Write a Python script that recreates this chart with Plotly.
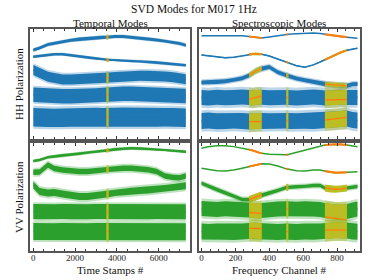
import plotly.graph_objects as go
from plotly.subplots import make_subplots

# ---------------- data ----------------
T_GRID = [0, 300, 700, 1000, 1400, 1800, 2200, 2600, 3000, 3300, 3500, 3600,
          3900, 4300, 4700, 5100, 5500, 5900, 6300, 6700, 7000, 7300]
F_GRID = [0, 40, 90, 140, 190, 240, 280, 300, 320, 340, 355, 400, 450, 500, 512,
          560, 610, 660, 700, 728, 760, 790, 820, 858, 890, 920]

T_MASKS = [(3500, 3600)]
F_MASKS = [(280, 355), (500, 512), (728, 858)]

T_TICKS = [0, 2000, 4000, 6000]
F_TICKS = [0, 200, 400, 600, 800]

# HH temporal modes (stacked amplitude)
HH_T_M1 = [8.9, 9.1, 9.45, 9.58, 9.73, 9.88, 10.0, 10.08, 10.14, 10.17, 10.18, 10.2,
           10.25, 10.24, 10.18, 10.1, 9.99, 9.9, 9.8, 9.68, 9.55, 9.38]
HH_T_M2 = [8.23, 8.3, 8.42, 8.47, 8.48, 8.36, 8.25, 8.15, 8.05, 7.97, 7.92, 7.9,
           7.88, 7.85, 7.8, 7.76, 7.71, 7.66, 7.59, 7.5, 7.43, 7.37]
HH_T_M3 = [6.9, 6.6, 6.23, 6.1, 5.95, 5.95, 5.98, 6.02, 6.07, 6.1, 6.13, 6.15,
           6.2, 6.26, 6.28, 6.32, 6.32, 6.3, 6.26, 6.18, 6.1, 5.98]
HH_T_M4 = [4.42, 4.38, 4.33, 4.3, 4.28, 4.27, 4.28, 4.3, 4.35, 4.4, 4.43, 4.45,
           4.48, 4.52, 4.52, 4.5, 4.47, 4.43, 4.4, 4.36, 4.33, 4.3]
HH_T_M5 = [2.18, 2.15, 2.12, 2.1, 2.12, 2.15, 2.18, 2.2, 2.2, 2.18, 2.17, 2.17,
           2.2, 2.22, 2.2, 2.18, 2.15, 2.15, 2.17, 2.18, 2.15, 2.12]
HH_T_CORE = [0.15, 0.12, 0.5, 0.72, 0.92]
HH_T_PEAK = [0.2, 0.16, 0.68, 0.9, 1.15]

# VV temporal modes
VV_T_M1 = [9.0, 9.1, 9.38, 9.48, 9.57, 9.65, 9.73, 9.85, 9.95, 10.02, 10.05, 10.07,
           10.18, 10.23, 10.27, 10.25, 10.2, 10.17, 10.13, 10.08, 10.0, 9.93]
VV_T_M2 = [7.87, 7.9, 8.6, 8.25, 8.1, 8.0, 7.95, 7.95, 8.03, 8.1, 8.15, 8.18,
           8.25, 8.27, 8.27, 8.2, 8.12, 7.95, 7.5, 7.35, 7.33, 7.5]
VV_T_M3 = [6.6, 5.95, 5.8, 5.85, 5.7, 5.55, 5.45, 5.45, 5.55, 5.65, 5.7, 5.72,
           5.85, 5.92, 5.98, 6.05, 6.1, 6.15, 6.25, 6.35, 6.45, 6.53]
VV_T_M4 = [3.95, 3.93, 3.9, 3.92, 3.95, 3.93, 3.9, 3.92, 3.95, 3.95, 3.93, 3.93,
           3.95, 3.97, 3.95, 3.93, 3.92, 3.95, 3.97, 3.95, 3.93, 3.92]
VV_T_M5 = [1.95, 1.93, 1.9, 1.92, 1.95, 1.93, 1.9, 1.92, 1.95, 1.95, 1.93, 1.93,
           1.95, 1.95, 1.93, 1.9, 1.92, 1.95, 1.95, 1.93, 1.92, 1.92]
VV_T_CORE = [0.12, 0.28, 0.35, 0.75, 0.85]
VV_T_PEAK = [0.17, 0.45, 0.55, 0.92, 1.05]

# HH spectroscopic modes
HH_F_M1 = [10.33, 10.34, 10.36, 10.38, 10.38, 10.33, 10.25, 10.2, 10.15, 10.1, 10.1, 10.2,
           10.33, 10.45, 10.47, 10.53, 10.58, 10.6, 10.55, 10.47, 10.4, 10.33, 10.25,
           10.18, 10.12, 10.08]
HH_F_M2 = [8.4, 8.33, 8.23, 8.12, 8.17, 8.33, 8.46, 8.5, 8.52, 8.5, 8.48, 8.3, 8.0,
           7.7, 7.62, 7.33, 7.18, 7.42, 7.7, 7.92, 8.2, 8.42, 8.65, 8.88, 9.0, 9.08]
HH_F_M3 = [5.65, 5.67, 5.7, 5.78, 5.9, 6.08, 6.35, 6.6, 6.8, 6.95, 7.05, 7.2, 6.68,
           6.38, 6.3, 6.05, 5.88, 5.72, 5.58, 5.48, 5.43, 5.4, 5.36, 5.32, 5.48, 5.5]
HH_F_M4 = [4.15, 4.1, 4.18, 4.12, 4.15, 4.2, 4.15, 4.1, 4.15, 4.2, 4.18, 4.12, 4.15,
           4.18, 4.15, 4.1, 4.15, 4.2, 4.15, 4.1, 4.12, 4.15, 4.2, 4.15, 4.12, 4.15]
HH_F_M5 = [1.8, 1.85, 1.78, 1.8, 1.85, 1.8, 1.75, 1.78, 1.8, 1.82, 1.8, 1.78, 1.82,
           1.85, 1.8, 1.78, 1.82, 1.8, 1.85, 1.88, 1.9, 1.95, 2.0, 2.05, 1.9, 1.85]
HH_F_CORE = [0, 0.04, 0.2, 0.75, 0.8]
HH_F_PEAK = [0, 0.08, 0.32, 1.02, 1.08]

# VV spectroscopic modes
VV_F_M1 = [10.27, 10.42, 10.52, 10.52, 10.44, 10.3, 10.15, 10.07, 9.95, 9.83, 9.77, 9.68,
           9.62, 9.62, 9.65, 9.85, 10.08, 10.33, 10.5, 10.6, 10.65, 10.67, 10.66, 10.6,
           10.5, 10.42]
VV_F_M2 = [8.27, 8.15, 8.02, 8.0, 8.1, 8.28, 8.45, 8.53, 8.62, 8.7, 8.73, 8.7, 8.5,
           8.22, 8.18, 8.03, 8.0, 8.1, 8.1, 7.98, 7.88, 7.83, 7.83, 7.87, 7.9, 7.93]
VV_F_M3 = [6.77, 6.5, 6.13, 5.8, 5.45, 5.15, 5.15, 5.3, 5.42, 5.53, 5.6, 5.78, 6.05,
           6.35, 6.37, 6.42, 6.45, 6.55, 6.55, 6.3, 6.2, 6.17, 6.2, 6.3, 6.4, 6.45]
VV_F_M4 = [4.25, 4.2, 4.15, 4.22, 4.2, 4.15, 4.1, 4.05, 4.0, 4.0, 4.05, 4.15, 4.2,
           4.22, 4.2, 4.18, 4.22, 4.2, 4.15, 4.05, 3.95, 3.9, 3.9, 3.95, 4.1, 4.2]
VV_F_M5 = [1.95, 1.9, 1.95, 1.93, 1.9, 1.95, 2.0, 2.05, 2.05, 2.0, 1.98, 1.93, 1.9,
           1.95, 1.93, 1.9, 1.95, 1.93, 1.95, 2.0, 2.05, 2.1, 2.1, 2.05, 1.95, 1.93]
VV_F_CORE = [0, 0, 0.18, 0.75, 0.8]
VV_F_PEAK = [0, 0, 0.3, 1.0, 1.08]

# fitted values drawn through masked channels of the noisiest modes
F_FIT_X = [280, 355, None, 500, 512, None, 728, 858]
HH_F_FIT_M4 = [3.97, 4.3, None, 4.15, 4.15, None, 3.9, 3.95]
HH_F_FIT_M5 = [1.73, 1.75, None, 1.8, 1.8, None, 1.9, 2.17]
VV_F_FIT_M4 = [3.85, 3.75, None, 4.2, 4.2, None, 3.4, 3.1]
VV_F_FIT_M5 = [2.27, 2.25, None, 1.93, 1.93, None, 2.1, 2.1]

# ---------------- styling ----------------
BLUE = "#1f77b4"
BLUE_L = "rgba(31,119,180,0.3)"
GREEN = "#2ca02c"
GREEN_L = "rgba(44,160,44,0.3)"
ORANGE = "#ff7f0e"
YELLOW = "#bcbd22"
YELLOW_L = "rgba(188,189,34,0.45)"
FONT = "Liberation Serif"

fig = make_subplots(rows=2, cols=2)


def band(fig, row, col, xs, ys, hw, color):
    up = [y + hw for y in ys]
    lo = [y - hw for y in ys]
    fig.add_trace(go.Scatter(x=list(xs) + list(xs[::-1]), y=up + lo[::-1],
                             fill="toself", fillcolor=color, mode="lines",
                             line=dict(width=0), hoverinfo="skip", showlegend=False),
                  row=row, col=col)


def line(fig, row, col, xs, ys, color, width):
    fig.add_trace(go.Scatter(x=xs, y=ys, mode="lines", line=dict(color=color, width=width),
                             hoverinfo="skip", showlegend=False, connectgaps=False),
                  row=row, col=col)


def panel(fig, row, col, grid, modes, core, peak, masks, color, light, fits=None):
    fits = fits or {}
    for k, ys in enumerate(modes):
        if peak[k] > 0:
            band(fig, row, col, grid, ys, peak[k], light)
        if core[k] > 0:
            band(fig, row, col, grid, ys, core[k], color)
        line(fig, row, col, grid, ys, color, 1.4)
        for a, b in masks:
            idx = [i for i, x in enumerate(grid) if a <= x <= b]
            mx = [grid[i] for i in idx]
            my = [ys[i] for i in idx]
            if peak[k] > 0.3:
                band(fig, row, col, mx, my, peak[k], YELLOW_L)
                band(fig, row, col, mx, my, core[k], YELLOW)
                if k not in fits:
                    line(fig, row, col, mx, my, ORANGE, 1.2)
            elif peak[k] > 0:
                band(fig, row, col, mx, my, peak[k] + 0.05, YELLOW)
                line(fig, row, col, mx, my, ORANGE, 1.6)
            else:
                line(fig, row, col, mx, my, ORANGE, 2.2)
        if k in fits:
            fx, fy = fits[k]
            line(fig, row, col, fx, fy, ORANGE, 1.3)


panel(fig, 1, 1, T_GRID, [HH_T_M1, HH_T_M2, HH_T_M3, HH_T_M4, HH_T_M5],
      HH_T_CORE, HH_T_PEAK, T_MASKS, BLUE, BLUE_L)
panel(fig, 1, 2, F_GRID, [HH_F_M1, HH_F_M2, HH_F_M3, HH_F_M4, HH_F_M5],
      HH_F_CORE, HH_F_PEAK, F_MASKS, BLUE, BLUE_L,
      fits={3: (F_FIT_X, HH_F_FIT_M4), 4: (F_FIT_X, HH_F_FIT_M5)})
panel(fig, 2, 1, T_GRID, [VV_T_M1, VV_T_M2, VV_T_M3, VV_T_M4, VV_T_M5],
      VV_T_CORE, VV_T_PEAK, T_MASKS, GREEN, GREEN_L)
panel(fig, 2, 2, F_GRID, [VV_F_M1, VV_F_M2, VV_F_M3, VV_F_M4, VV_F_M5],
      VV_F_CORE, VV_F_PEAK, F_MASKS, GREEN, GREEN_L,
      fits={3: (F_FIT_X, VV_F_FIT_M4), 4: (F_FIT_X, VV_F_FIT_M5)})

# ---------------- layout ----------------
W, H = 374, 280
ML, MR, MT, MB = 30, 14, 29, 29
PW, PH = W - ML - MR, H - MT - MB


def px_x(p):
    return (p - ML) / PW


def px_y(p):
    return (H - MB - p) / PH


frame = dict(showline=True, linecolor="#555555", linewidth=2, showgrid=False, zeroline=False)
xcommon = dict(frame, mirror="allticks", ticks="inside", ticklen=3, tickwidth=1,
               tickcolor="#333333", ticklabelstandoff=-3,
               tickfont=dict(family=FONT, size=9, color="#222222"))
ycommon = dict(frame, mirror=True, ticks="", showticklabels=False)

xt = dict(xcommon, tickvals=T_TICKS, range=[-160, 7500],
          minor=dict(dtick=500, tick0=0, ticklen=2, ticks="inside", tickcolor="#333333"))
xf = dict(xcommon, tickvals=F_TICKS, range=[-15, 935],
          minor=dict(dtick=50, tick0=0, ticklen=2, ticks="inside", tickcolor="#333333"))

dom_l = [0, px_x(190)]
dom_r = [px_x(199), 1]
dom_t = [px_y(139), 1]
dom_b = [0, px_y(143)]

fig.update_layout(
    width=W, height=H,
    margin=dict(l=ML, r=MR, t=MT, b=MB),
    paper_bgcolor="white", plot_bgcolor="white",
    showlegend=False,
    font=dict(family=FONT, color="#222222"),
    xaxis=dict(xt, domain=dom_l, showticklabels=False),
    xaxis2=dict(xf, domain=dom_r, showticklabels=False),
    xaxis3=dict(xt, domain=dom_l),
    xaxis4=dict(xf, domain=dom_r),
    yaxis=dict(ycommon, domain=dom_t, range=[0, 11]),
    yaxis2=dict(ycommon, domain=dom_t, range=[0, 11]),
    yaxis3=dict(ycommon, domain=dom_b, range=[0, 10.8]),
    yaxis4=dict(ycommon, domain=dom_b, range=[0, 10.8]),
)

texts = [
    ("SVD Modes for M017 1Hz", 194, 9, 0, 11.5),
    ("Temporal Modes", 110, 23, 0, 11),
    ("Spectroscopic Modes", 279, 23, 0, 11),
    ("HH Polarization", 19, 84, -90, 11),
    ("VV Polarization", 19, 197, -90, 11),
    ("Time Stamps #", 110, 270, 0, 11),
    ("Frequency Channel #", 279, 270, 0, 11),
]
for t, x, y, ang, sz in texts:
    fig.add_annotation(text=t, x=px_x(x), y=px_y(y), xref="paper", yref="paper",
                       showarrow=False, textangle=ang, xanchor="center", yanchor="middle",
                       font=dict(family=FONT, size=sz, color="#111111"))

# remove the browser's default 8px page margin so the figure fills the window
fig.write_html("out.html", config={"displayModeBar": False},
               post_script="document.body.style.margin='0';")
